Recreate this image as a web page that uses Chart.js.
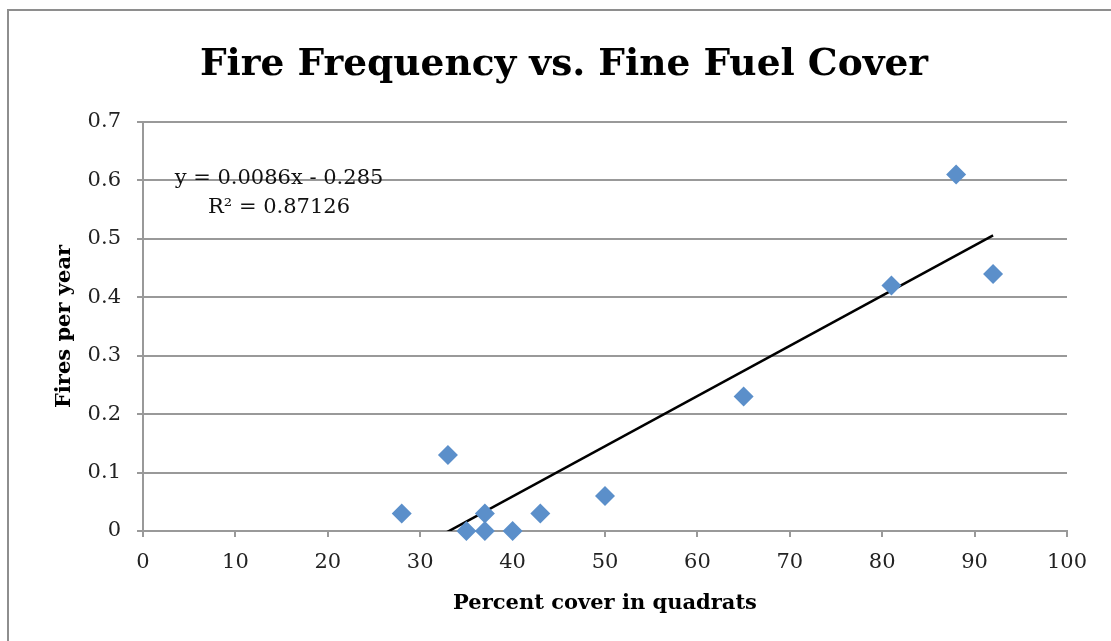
<!DOCTYPE html>
<html>
<head>
<meta charset="utf-8">
<script src="https://cdn.jsdelivr.net/npm/chart.js@4.4.1/dist/chart.umd.min.js"></script>
<style>
html, body { margin: 0; padding: 0; background: #fff; overflow: hidden; }
#frame { position: absolute; left: 7px; top: 9px; width: 1120px; height: 650px; border: 2px solid #8e8e8e; }
#wrap { position: absolute; left: 0; top: 0; width: 1111px; height: 641px; }
</style>
</head>
<body>
<div id="frame"></div>
<div id="wrap"><canvas id="chart"></canvas></div>
<script>
// data
var coverPct = [28, 33, 35, 37, 37, 40, 43, 50, 65, 81, 88, 92];
var firesPerYear = [0.03, 0.13, 0, 0.03, 0, 0, 0.03, 0.06, 0.23, 0.42, 0.61, 0.44];

// linear trendline end points (y = 0.0086x - 0.285)
var trendX = [28, 92];
var trendY = [-0.044, 0.506];

var yTickLabels = ['0', '0.1', '0.2', '0.3', '0.4', '0.5', '0.6', '0.7'];
var xTickLabels = ['0', '10', '20', '30', '40', '50', '60', '70', '80', '90', '100'];

var eqLines = ['y = 0.0086x - 0.285', 'R\u00B2 = 0.87126'];

var serif = "'DejaVu Serif', 'Liberation Serif', serif";
var gridGray = '#999999';

var points = [];
for (var i = 0; i < coverPct.length; i++) {
  points.push({ x: coverPct[i], y: firesPerYear[i] });
}
var trend = [];
for (var j = 0; j < trendX.length; j++) {
  trend.push({ x: trendX[j], y: trendY[j] });
}

//equation label, like excel's trendline label
var eqLabel = {
  id: 'eqLabel',
  afterDatasetsDraw: function (chart) {
    var ctx = chart.ctx;
    var a = chart.chartArea;
    ctx.save();
    ctx.fillStyle = '#111';
    ctx.font = '21px ' + serif;
    ctx.textAlign = 'center';
    ctx.textBaseline = 'middle';
    ctx.fillText(eqLines[0], a.left + 136, a.top + 57);
    ctx.fillText(eqLines[1], a.left + 136, a.top + 86);
    ctx.restore();
  }
};

var ctx = document.getElementById('chart').getContext('2d');
var myChart = new Chart(ctx, {
  type: 'scatter',
  data: {
    datasets: [{
      label: 'Fires',
      data: points,
      pointStyle: 'rectRot',
      pointRadius: 10,
      pointHoverRadius: 10,
      backgroundColor: '#5b8fca',
      borderColor: '#5b8fca',
      borderWidth: 0,
      clip: false,
      order: 0
    }, {
      label: 'Trend',
      type: 'line',
      data: trend,
      borderColor: '#000',
      borderWidth: 2.5,
      pointRadius: 0,
      fill: false,
      clip: 0,
      order: 1
    }]
  },
  options: {
    responsive: true,
    maintainAspectRatio: false,
    animation: false,
    layout: { padding: { left: 61, right: 44, top: 0, bottom: 0 } },
    plugins: {
      legend: { display: false },
      tooltip: { enabled: false },
      title: {
        display: true,
        text: 'Fire Frequency vs. Fine Fuel Cover',
        color: '#000',
        font: { family: serif, size: 37.5, weight: 'bold' },
        padding: { top: 43, bottom: 34 }
      }
    },
    scales: {
      x: {
        type: 'linear',
        min: 0,
        max: 100,
        afterFit: function (s) { s.height = 110; },
        ticks: {
          stepSize: 10,
          color: '#222',
          padding: 13,
          font: { family: serif, size: 21 },
          callback: function (v, i) { return xTickLabels[i]; }
        },
        grid: { drawOnChartArea: false, drawTicks: true, tickLength: 6, color: gridGray, lineWidth: 2 },
        border: { color: gridGray, width: 2 },
        title: {
          display: true,
          text: 'Percent cover in quadrats',
          color: '#000',
          font: { family: serif, size: 21, weight: 'bold' },
          padding: { top: 10, bottom: 25 }
        }
      },
      y: {
        min: 0,
        max: 0.7,
        afterFit: function (s) { s.width = 82; },
        ticks: {
          stepSize: 0.1,
          color: '#222',
          padding: 16,
          font: { family: serif, size: 21 },
          callback: function (v, i) { return yTickLabels[i]; }
        },
        grid: { color: gridGray, lineWidth: 2, tickLength: 6 },
        border: { color: gridGray, width: 2 },
        title: {
          display: true,
          text: 'Fires per year',
          color: '#000',
          font: { family: serif, size: 21, weight: 'bold' },
          padding: { top: -9, bottom: 0 }
        }
      }
    }
  },
  plugins: [eqLabel]
});
</script>
</body>
</html>
